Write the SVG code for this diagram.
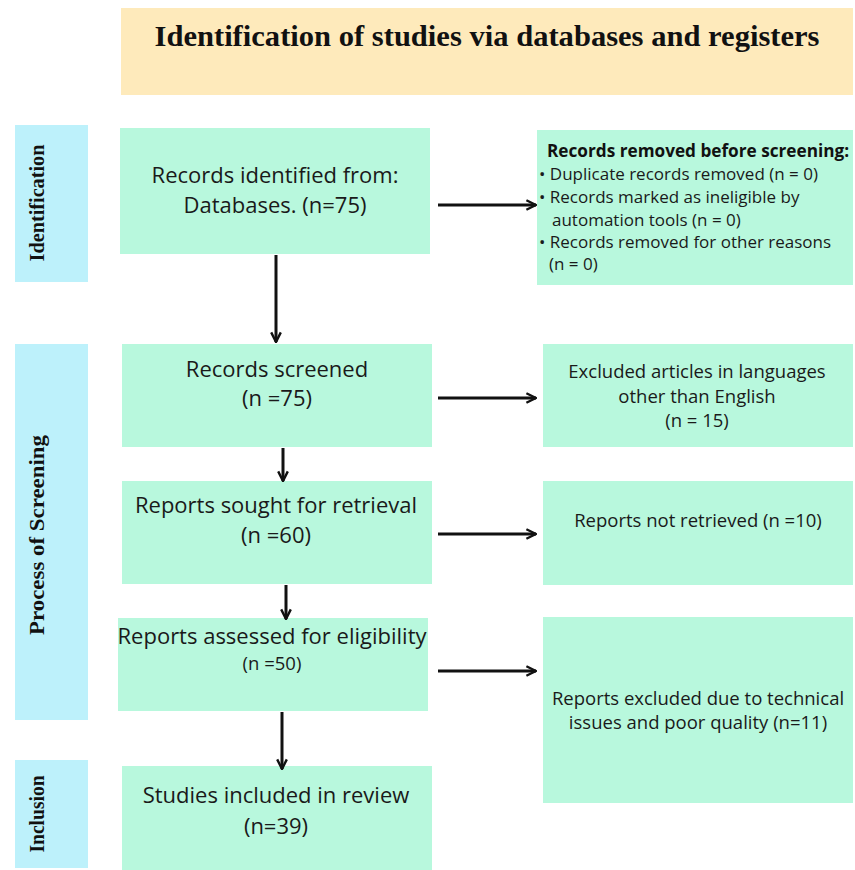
<svg xmlns="http://www.w3.org/2000/svg" width="855" height="870" viewBox="0 0 855 870">
<style>
.title{font-family:"Liberation Serif",serif;font-weight:bold;font-size:30px;fill:#111}
.side{fill:#bdf1fb}
.sideT{font-family:"Liberation Serif",serif;font-weight:bold;font-size:21px;fill:#111}
.box{fill:#b8f8dd}
.t{font-family:"Open Sans","Noto Sans",sans-serif;font-size:22px;fill:#1a1a1a;text-anchor:middle}
.s{font-family:"Open Sans","Noto Sans",sans-serif;font-size:18.5px;fill:#1a1a1a;text-anchor:middle}
.r{font-family:"Open Sans","Noto Sans",sans-serif;font-size:17px;fill:#1a1a1a}
.rb{font-family:"Open Sans","Noto Sans",sans-serif;font-size:17.2px;font-weight:bold;fill:#111}
.c{stroke:#111;stroke-width:3;fill:none}
</style>
<defs>
<marker id="ah" viewBox="0 0 10 10" refX="9" refY="5" markerWidth="4" markerHeight="4" orient="auto" markerUnits="strokeWidth">
<path d="M1,1 L9,5 L1,9" fill="none" stroke="#111" stroke-width="2"/>
</marker>
</defs>
<rect width="855" height="870" fill="#fff"/>
<g id="title">
<rect x="121" y="8" width="732" height="87" fill="#feeabb"/>
<text class="title" x="487" y="46" text-anchor="middle" textLength="665" lengthAdjust="spacingAndGlyphs">Identification of studies via databases and registers</text>
</g>
<g id="stage-identification">
<rect class="side" x="15" y="125" width="73" height="157"/>
<text class="sideT" transform="translate(44,203) rotate(-90)" text-anchor="middle" textLength="117" lengthAdjust="spacingAndGlyphs">Identification</text>
</g>
<g id="stage-screening">
<rect class="side" x="15" y="344" width="73" height="376"/>
<text class="sideT" transform="translate(44,535) rotate(-90)" text-anchor="middle" textLength="200" lengthAdjust="spacingAndGlyphs">Process of Screening</text>
</g>
<g id="stage-inclusion">
<rect class="side" x="15" y="760" width="73" height="108"/>
<text class="sideT" transform="translate(44,814) rotate(-90)" text-anchor="middle" textLength="77" lengthAdjust="spacingAndGlyphs">Inclusion</text>
</g>
<g id="identified">
<rect class="box" x="120" y="128" width="310" height="126"/>
<text class="t" x="275" y="183">Records identified from:</text>
<text class="t" x="275" y="213">Databases. (n=75)</text>
</g>
<g id="removed">
<rect class="box" x="537" y="130" width="316" height="155"/>
<text class="rb" x="547" y="157">Records removed before screening:</text>
<text class="r" x="539" y="180">• Duplicate records removed (n = 0)</text>
<text class="r" x="539" y="203">• Records marked as ineligible by</text>
<text class="r" x="552" y="226">automation tools (n = 0)</text>
<text class="r" x="539" y="248">• Records removed for other reasons</text>
<text class="r" x="549" y="270">(n = 0)</text>
</g>
<g id="screened">
<rect class="box" x="122" y="344" width="310" height="103"/>
<text class="t" x="277" y="377">Records screened</text>
<text class="t" x="277" y="406">(n =75)</text>
</g>
<g id="excluded-lang">
<rect class="box" x="543" y="344" width="310" height="103"/>
<text class="s" x="697" y="378">Excluded articles in languages</text>
<text class="s" x="697" y="403">other than English</text>
<text class="s" x="697" y="427">(n = 15)</text>
</g>
<g id="sought">
<rect class="box" x="122" y="481" width="310" height="103"/>
<text class="t" x="276" y="513">Reports sought for retrieval</text>
<text class="t" x="276" y="543">(n =60)</text>
</g>
<g id="not-retrieved">
<rect class="box" x="543" y="481" width="310" height="104"/>
<text class="s" x="698" y="527">Reports not retrieved (n =10)</text>
</g>
<g id="assessed">
<rect class="box" x="118" y="618" width="310" height="93"/>
<text class="t" x="272" y="644">Reports assessed for eligibility</text>
<text class="s" x="272" y="670">(n =50)</text>
</g>
<g id="excluded-quality">
<rect class="box" x="543" y="617" width="310" height="186"/>
<text class="s" x="698" y="705">Reports excluded due to technical</text>
<text class="s" x="698" y="729">issues and poor quality (n=11)</text>
</g>
<g id="included">
<rect class="box" x="122" y="766" width="310" height="104"/>
<text class="t" x="276" y="803">Studies included in review</text>
<text class="t" x="276" y="834">(n=39)</text>
</g>
<g id="connectors">
<line class="c" x1="438" y1="205" x2="536" y2="205" marker-end="url(#ah)"/>
<line class="c" x1="438" y1="398" x2="536" y2="398" marker-end="url(#ah)"/>
<line class="c" x1="438" y1="534" x2="536" y2="534" marker-end="url(#ah)"/>
<line class="c" x1="438" y1="671" x2="536" y2="671" marker-end="url(#ah)"/>
<line class="c" x1="276" y1="255" x2="276" y2="342" marker-end="url(#ah)"/>
<line class="c" x1="283" y1="448" x2="283" y2="481" marker-end="url(#ah)"/>
<line class="c" x1="286" y1="585" x2="286" y2="619" marker-end="url(#ah)"/>
<line class="c" x1="282" y1="712" x2="282" y2="769" marker-end="url(#ah)"/>
</g>
</svg>
